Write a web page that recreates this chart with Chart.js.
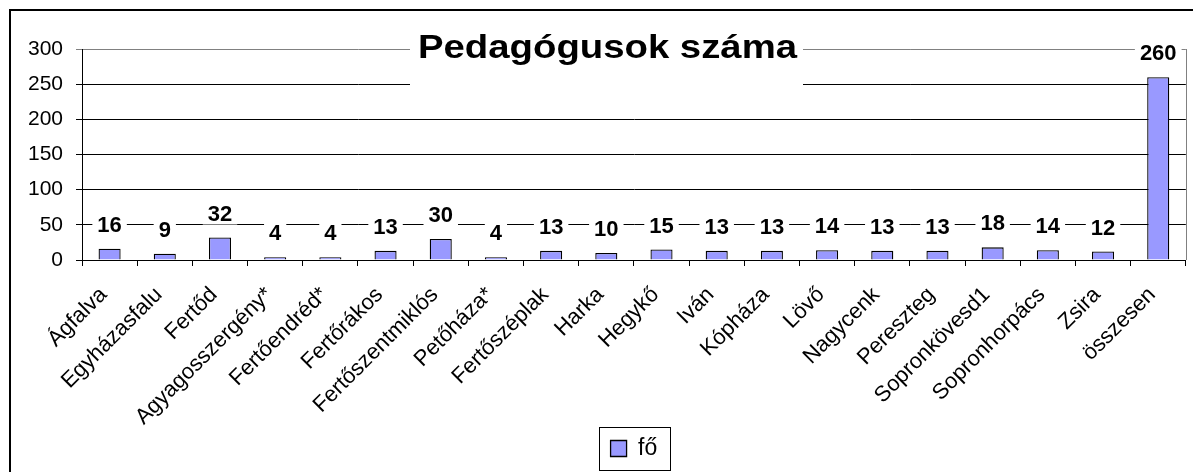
<!DOCTYPE html>
<html>
<head>
<meta charset="utf-8">
<script src="https://cdn.jsdelivr.net/npm/chart.js@4"></script>
<style>
  html, body { margin: 0; padding: 0; background: #fff; }
</style>
</head>
<body>
<canvas id="myChart" width="1193" height="472"></canvas>
<script>
// adatok
const labels = ['Ágfalva', 'Egyházasfalu', 'Fertőd', 'Agyagosszergény*', 'Fertőendréd*', 'Fertőrákos',
  'Fertőszentmiklós', 'Petőháza*', 'Fertőszéplak', 'Harka', 'Hegykő', 'Iván', 'Kópháza', 'Lövő',
  'Nagycenk', 'Pereszteg', 'Sopronkövesd1', 'Sopronhorpács', 'Zsira', 'összesen'];
const values = [16, 9, 32, 4, 4, 13, 30, 4, 13, 10, 15, 13, 13, 14, 13, 13, 18, 14, 12, 260];
const yTicks = [0, 50, 100, 150, 200, 250, 300];
const seriesName = 'fő';
const chartTitle = 'Pedagógusok száma';

const FONT = '"Liberation Sans", Arial, sans-serif';

// keret, cím, feliratok
const decor = {
  id: 'decor',
  beforeDraw(chart) {
    const c = chart.ctx;
    c.save();
    c.fillStyle = '#fff';
    c.fillRect(0, 0, chart.width, chart.height);
    c.strokeStyle = '#000';
    c.lineWidth = 2;
    c.beginPath();
    c.moveTo(10, chart.height + 2);
    c.lineTo(10, 10);
    c.lineTo(chart.width + 2, 10);
    c.stroke();
    c.restore();
  },
  beforeDatasetsDraw(chart) {
    const c = chart.ctx;
    const a = chart.chartArea;
    c.save();
    c.strokeStyle = '#808080';
    c.lineWidth = 1;
    c.beginPath();
    c.moveTo(Math.round(a.right) + 0.5, a.top);
    c.lineTo(Math.round(a.right) + 0.5, a.bottom);
    c.stroke();
    c.restore();
  },
  afterDatasetsDraw(chart) {
    const c = chart.ctx;
    const meta = chart.getDatasetMeta(0);
    c.save();
    c.font = 'bold 22px ' + FONT;
    c.textAlign = 'center';
    c.textBaseline = 'middle';
    meta.data.forEach((bar, i) => {
      const txt = String(values[i]);
      const w = c.measureText(txt).width;
      const cy = bar.y - 24;
      c.fillStyle = '#fff';
      c.fillRect(bar.x - w / 2 - 5, cy - 11, w + 10, 22);
      c.fillStyle = '#000';
      c.fillText(txt, bar.x, cy + 1);
    });
    c.restore();
  },
  afterDraw(chart) {
    const c = chart.ctx;
    c.save();
    // cím fehér dobozzal a rajzterületen
    c.fillStyle = '#fff';
    c.fillRect(410, 32, 393, 58);
    c.font = 'bold 33px ' + FONT;
    c.textAlign = 'left';
    c.textBaseline = 'alphabetic';
    const tw = c.measureText(chartTitle).width;
    c.translate(418, 58);
    c.scale(379 / tw, 1);
    c.fillStyle = '#000';
    c.fillText(chartTitle, 0, 0);
    c.restore();

    // jelmagyarázat kerete
    const hb = chart.legend.legendHitBoxes[0];
    if (hb) {
      c.save();
      c.strokeStyle = '#000';
      c.lineWidth = 1;
      c.strokeRect(Math.round(hb.left - 12) + 0.5, Math.round(hb.top + hb.height / 2 - 22) + 0.5,
        Math.round(hb.width + 24), 43);
      c.restore();
    }
  }
};

const data = {
  labels: labels,
  datasets: [{
    label: seriesName,
    data: values,
    backgroundColor: '#9999FF',
    borderColor: '#000',
    borderWidth: 1.3,
    categoryPercentage: 1,
    barPercentage: 0.4
  }]
};

const config = {
  type: 'bar',
  data: data,
  options: {
    responsive: false,
    animation: false,
    layout: { padding: { left: 10, top: 49, right: 4, bottom: 2 } },
    scales: {
      x: {
        grid: { display: true, drawOnChartArea: false, drawTicks: true, tickLength: 6, color: '#000', offset: true },
        border: { color: '#000', width: 1 },
        ticks: {
          color: '#000', font: { family: FONT, size: 22 }, padding: 16, labelOffset: -6,
          minRotation: 45, maxRotation: 45, autoSkip: false
        },
        afterFit(scale) { scale.height = 167; }
      },
      y: {
        min: 0,
        max: 300,
        grid: {
          color: (ctx) => (ctx.tick && ctx.tick.value === 300 ? '#808080' : '#000'),
          tickLength: 6,
          lineWidth: 1
        },
        border: { color: '#000', width: 1 },
        afterBuildTicks(scale) { scale.ticks = yTicks.map(v => ({ value: v })); },
        ticks: { color: '#000', font: { family: FONT, size: 21 }, padding: 13 },
        afterFit(scale) { scale.width = 72; }
      }
    },
    plugins: {
      title: { display: false },
      tooltip: { enabled: false },
      legend: {
        display: true,
        position: 'bottom',
        fullSize: false,
        labels: { color: '#000', font: { family: FONT, size: 23 }, boxWidth: 16, boxHeight: 16, padding: 10 }
      }
    }
  },
  plugins: [decor]
};

const myChart = new Chart(document.getElementById('myChart'), config);
</script>
</body>
</html>
